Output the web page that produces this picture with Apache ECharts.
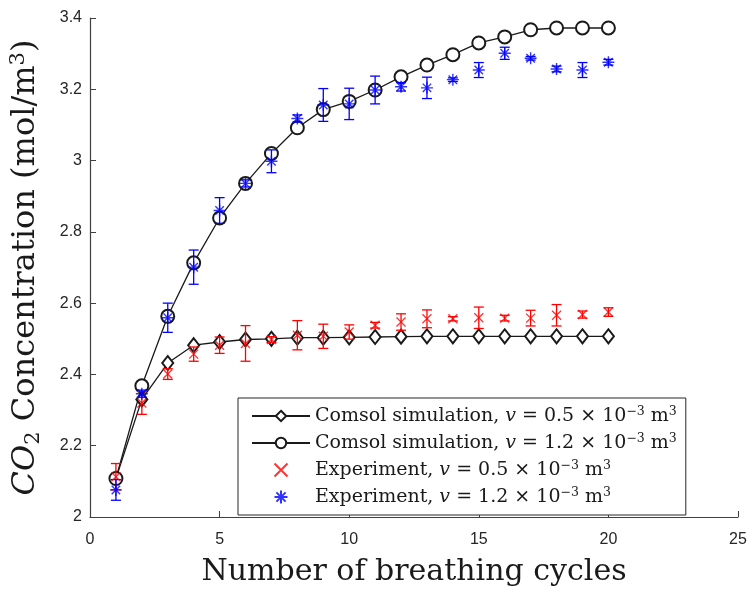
<!DOCTYPE html>
<html>
<head>
<meta charset="utf-8">
<script src="https://cdn.jsdelivr.net/npm/echarts@6/dist/echarts.min.js"></script>
<style>
  html, body { margin: 0; padding: 0; background: #fff; }
  #chart { width: 749px; height: 590px; }
</style>
</head>
<body>
<div id="chart"></div>
<script>
// Breathing cycle index
const cycles = [1, 2, 3, 4, 5, 6, 7, 8, 9, 10, 11, 12, 13, 14, 15, 16, 17, 18, 19, 20];

// COMSOL simulation, v = 0.5e-3 m^3
const sim05 = [2.108, 2.330, 2.432, 2.482, 2.491, 2.498, 2.500, 2.503, 2.503, 2.504,
               2.505, 2.506, 2.507, 2.507, 2.507, 2.507, 2.507, 2.507, 2.507, 2.507];

// COMSOL simulation, v = 1.2e-3 m^3
const sim12 = [2.108, 2.368, 2.563, 2.713, 2.839, 2.936, 3.020, 3.092, 3.143, 3.166,
               3.198, 3.235, 3.268, 3.297, 3.330, 3.347, 3.367, 3.372, 3.372, 3.372];

// Experiment, v = 0.5e-3 m^3 (mean and half-range)
const exp05 = [2.113, 2.320, 2.401, 2.457, 2.482, 2.487, 2.498, 2.510, 2.507, 2.519,
               2.538, 2.547, 2.556, 2.556, 2.559, 2.558, 2.558, 2.566, 2.568, 2.575];
const err05 = [0.037, 0.032, 0.015, 0.020, 0.023, 0.050, 0.008, 0.041, 0.034, 0.020,
               0.008, 0.023, 0.025, 0.006, 0.030, 0.008, 0.022, 0.030, 0.010, 0.012];

// Experiment, v = 1.2e-3 m^3 (mean and half-range)
const exp12 = [2.076, 2.346, 2.559, 2.701, 2.860, 2.936, 2.998, 3.118, 3.156, 3.159,
               3.198, 3.207, 3.204, 3.227, 3.254, 3.301, 3.287, 3.257, 3.254, 3.276];
const err12 = [0.029, 0.010, 0.041, 0.048, 0.036, 0.010, 0.032, 0.010, 0.046, 0.044,
               0.039, 0.012, 0.030, 0.005, 0.021, 0.017, 0.005, 0.008, 0.021, 0.008];

// Axis ticks
const xTicks = { min: 0, max: 25, interval: 5 };
const yTicks = { min: 2, max: 3.4, interval: 0.2 };

const names = [
  'Comsol simulation, v = 0.5e-3',
  'Comsol simulation, v = 1.2e-3',
  'Experiment, v = 0.5e-3',
  'Experiment, v = 1.2e-3'
];
const legendText = {
  [names[0]]: 'Comsol simulation, {i|v} = 0.5 × 10{sup|−3} m{sup|3}',
  [names[1]]: 'Comsol simulation, {i|v} = 1.2 × 10{sup|−3} m{sup|3}',
  [names[2]]: 'Experiment, {i|v} = 0.5 × 10{sup|−3} m{sup|3}',
  [names[3]]: 'Experiment, {i|v} = 1.2 × 10{sup|−3} m{sup|3}'
};

const SERIF = '"DejaVu Serif", "Liberation Serif", serif';
const SANS = '"Liberation Sans", Arial, sans-serif';
const TXT = '#1a1a1a';

const crossPath = 'path://M0,0L10,10M10,0L0,10';
const starPath = 'path://M6,0L6,12M0,6L12,6M1.76,1.76L10.24,10.24M10.24,1.76L1.76,10.24';

function pairs(xs, ys) { return xs.map((x, i) => [x, ys[i]]); }
function bars(xs, ys, es) { return xs.map((x, i) => [x, ys[i] - es[i], ys[i] + es[i]]); }

function errorBar(color) {
  return function (params, api) {
    const x = api.value(0);
    const top = api.coord([x, api.value(2)]);
    const bot = api.coord([x, api.value(1)]);
    const hw = 5;
    const st = { stroke: color, lineWidth: 1.3 };
    return {
      type: 'group',
      children: [
        { type: 'line', shape: { x1: top[0], y1: top[1], x2: bot[0], y2: bot[1] }, style: st },
        { type: 'line', shape: { x1: top[0] - hw, y1: top[1], x2: top[0] + hw, y2: top[1] }, style: st },
        { type: 'line', shape: { x1: bot[0] - hw, y1: bot[1], x2: bot[0] + hw, y2: bot[1] }, style: st }
      ]
    };
  };
}

const chart = echarts.init(document.getElementById('chart'), null, { renderer: 'canvas' });

const axisColor = '#404040';
const labelColor = '#262626';

chart.setOption({
  animation: false,
  backgroundColor: '#fff',
  grid: { left: 90, right: 11, top: 18, bottom: 73, containLabel: false, outerBoundsMode: 'none' },
  xAxis: {
    type: 'value',
    min: xTicks.min, max: xTicks.max, interval: xTicks.interval,
    splitLine: { show: false },
    axisLine: { show: true, lineStyle: { color: axisColor, width: 1.2 } },
    axisTick: { show: true, inside: true, length: 6, lineStyle: { color: axisColor } },
    axisLabel: { color: labelColor, fontFamily: SANS, fontSize: 16, margin: 15 },
    name: 'Number of breathing cycles',
    nameLocation: 'middle',
    nameGap: 40,
    nameTextStyle: { fontFamily: SERIF, fontSize: 30, color: TXT }
  },
  yAxis: {
    type: 'value',
    min: yTicks.min, max: yTicks.max, interval: yTicks.interval,
    splitLine: { show: false },
    axisLine: { show: true, lineStyle: { color: axisColor, width: 1.2 } },
    axisTick: { show: true, inside: true, length: 6, lineStyle: { color: axisColor } },
    axisLabel: {
      color: labelColor, fontFamily: SANS, fontSize: 16, margin: 8,
      formatter: v => String(Math.round(v * 10) / 10)
    },
    name: '{i|CO}{sub|2} Concentration (mol/m{sup|3})',
    nameLocation: 'middle',
    nameGap: 46,
    nameRotate: 90,
    nameTextStyle: {
      fontFamily: SERIF, fontSize: 32, color: TXT, lineHeight: 36,
      rich: {
        i: { fontFamily: SERIF, fontSize: 32, fontStyle: 'italic', color: TXT, lineHeight: 36 },
        sub: { fontFamily: SERIF, fontSize: 21, color: TXT, verticalAlign: 'bottom', lineHeight: 22 },
        sup: { fontFamily: SERIF, fontSize: 21, color: TXT, verticalAlign: 'top', lineHeight: 18 }
      }
    }
  },
  legend: {
    orient: 'vertical',
    left: 238, top: 398,
    padding: [7, 9, 7, 13],
    itemGap: 5,
    itemWidth: 58,
    itemHeight: 13,
    backgroundColor: '#fff',
    borderColor: '#262626',
    borderWidth: 1,
    borderRadius: 0,
    data: names,
    formatter: n => legendText[n],
    textStyle: {
      fontFamily: SERIF, fontSize: 19, color: TXT, lineHeight: 22,
      rich: {
        i: { fontFamily: SERIF, fontSize: 19, fontStyle: 'italic', color: TXT, lineHeight: 22 },
        sup: { fontFamily: SERIF, fontSize: 12.5, color: TXT, verticalAlign: 'top', lineHeight: 13 }
      }
    }
  },
  series: [
    {
      name: names[0], type: 'line', data: pairs(cycles, sim05),
      symbol: 'emptyDiamond', symbolSize: [11, 14],
      lineStyle: { color: '#1a1a1a', width: 1.3 },
      itemStyle: { color: '#1a1a1a', borderColor: '#333', borderWidth: 1.3 },
      z: 3
    },
    {
      name: names[1], type: 'line', data: pairs(cycles, sim12),
      symbol: 'emptyCircle', symbolSize: 13,
      lineStyle: { color: '#1a1a1a', width: 1.3 },
      itemStyle: { color: '#1a1a1a', borderColor: '#333', borderWidth: 1.3 },
      z: 3
    },
    {
      type: 'custom', name: 'err05', data: bars(cycles, exp05, err05),
      renderItem: errorBar('#ff0000'), z: 4, silent: true
    },
    {
      type: 'custom', name: 'err12', data: bars(cycles, exp12, err12),
      renderItem: errorBar('#0000ff'), z: 4, silent: true
    },
    {
      name: names[2], type: 'scatter', data: pairs(cycles, exp05),
      symbol: crossPath, symbolSize: 9,
      itemStyle: { color: 'rgba(0,0,0,0)', borderColor: '#ff0000', borderWidth: 1.3 },
      z: 5
    },
    {
      name: names[3], type: 'scatter', data: pairs(cycles, exp12),
      symbol: starPath, symbolSize: 12,
      itemStyle: { color: 'rgba(0,0,0,0)', borderColor: '#0000ff', borderWidth: 1.4 },
      z: 5
    }
  ]
});
</script>
</body>
</html>
